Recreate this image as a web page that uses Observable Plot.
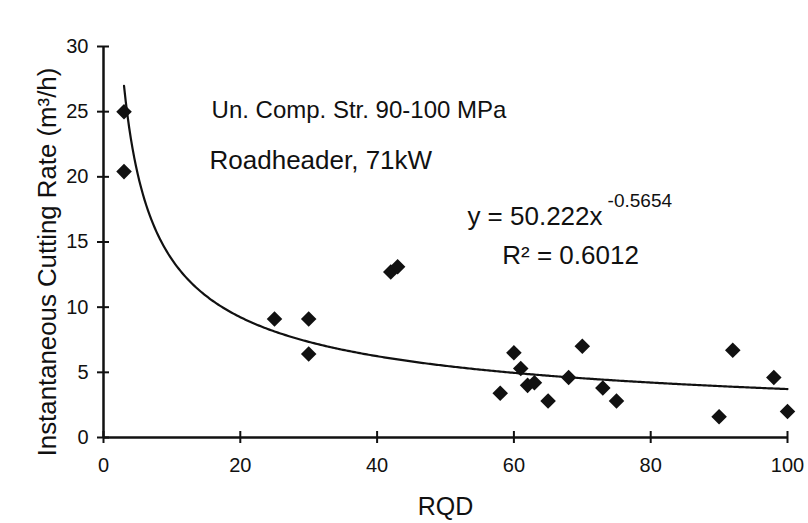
<!DOCTYPE html>
<html><head><meta charset="utf-8">
<script src="https://cdn.jsdelivr.net/npm/d3@7"></script>
<script src="https://cdn.jsdelivr.net/npm/@observablehq/plot@0.6"></script>
<style>body{margin:0;background:#fff;}</style>
</head><body><div id="chart"></div>
<script>
// Data
const rqd  = [3, 3, 25, 30, 30, 42, 43, 58, 60, 61, 62, 63, 65, 68, 70, 73, 75, 90, 92, 98, 100];
const rate = [25.0, 20.4, 9.1, 9.1, 6.4, 12.7, 13.1, 3.4, 6.5, 5.3, 4.0, 4.2, 2.8, 4.6, 7.0, 3.8, 2.8, 1.6, 6.7, 4.6, 2.0];
const xTicks = [0, 20, 40, 60, 80, 100];
const yTicks = [0, 5, 10, 15, 20, 25, 30];
// Power trendline printed on the chart: y = 50.222 x^-0.5654
const fitA = 50.222, fitB = -0.5654;
const fitRange = [3, 100];
const xLabel = "RQD";
const yLabel = "Instantaneous Cutting Rate (m³/h)";
const noteLines = ["Un. Comp. Str. 90-100 MPa", "Roadheader, 71kW"];
const eqMain = "y = 50.222x";
const eqExp = "-0.5654";
const r2Text = "R² = 0.6012";

// Annotation anchors (data coordinates)
const notes = [
  {x: 15.8, y: 24.5, text: noteLines[0]},
  {x: 15.5, y: 20.6, text: noteLines[1]}
];
const eqPos = {x: 53.2, y: 16.27};
const expPos = {x: 73.7, y: 17.65};
const r2Pos = {x: 58.3, y: 13.33};

const points = rqd.map((x, i) => ({x, y: rate[i]}));
const fit = d3.range(fitRange[0], fitRange[1] + 1e-9, 0.25).map(x => ({x, y: fitA * Math.pow(x, fitB)}));

const ink = "#111";
const chart = Plot.plot({
  width: 808, height: 523,
  marginLeft: 103, marginRight: 21, marginTop: 46, marginBottom: 86,
  style: {fontFamily: "Arial, 'Liberation Sans', Helvetica, sans-serif", fontSize: "20px", color: ink, background: "#fff"},
  x: {domain: [0, 100]},
  y: {domain: [0, 30]},
  marks: [
    Plot.axisX({ticks: xTicks, tickSize: 6, tickPadding: 14, label: null, strokeWidth: 2}),
    Plot.axisX({ticks: xTicks, tickSize: 6, text: null, dy: -6, label: null, strokeWidth: 2}),
    Plot.axisY({ticks: yTicks, tickSize: 6, tickPadding: 9, label: null, strokeWidth: 2}),
    Plot.axisY({ticks: yTicks, tickSize: 6, text: null, dx: 6, label: null, strokeWidth: 2}),
    Plot.ruleY([0], {stroke: ink, strokeWidth: 2.5}),
    Plot.ruleX([0], {stroke: ink, strokeWidth: 2.5}),
    Plot.line(fit, {x: "x", y: "y", stroke: ink, strokeWidth: 2.2, curve: "linear"}),
    Plot.dot(points, {x: "x", y: "y", symbol: "diamond2", r: 7, fill: ink, stroke: "none"}),
    Plot.text([notes[0]], {x: "x", y: "y", text: "text", fontSize: 24, textAnchor: "start", lineAnchor: "bottom", fill: ink}),
    Plot.text([notes[1]], {x: "x", y: "y", text: "text", fontSize: 26, textAnchor: "start", lineAnchor: "bottom", fill: ink}),
    Plot.text([eqMain], {x: () => eqPos.x, y: () => eqPos.y, text: d => d, fontSize: 26, textAnchor: "start", lineAnchor: "bottom", fill: ink}),
    Plot.text([eqExp], {x: () => expPos.x, y: () => expPos.y, text: d => d, fontSize: 19, textAnchor: "start", lineAnchor: "bottom", fill: ink}),
    Plot.text([r2Text], {x: () => r2Pos.x, y: () => r2Pos.y, text: d => d, fontSize: 26, textAnchor: "start", lineAnchor: "bottom", fill: ink}),
    Plot.text([xLabel], {frameAnchor: "bottom", dy: 77, text: d => d, fontSize: 25, textAnchor: "middle", lineAnchor: "bottom", fill: ink}),
    Plot.text([yLabel], {frameAnchor: "left", rotate: -90, dx: -48, dy: 20, text: d => d, fontSize: 25.8, textAnchor: "middle", lineAnchor: "bottom", fill: ink})
  ]
});
document.getElementById("chart").appendChild(chart);
</script>
</body></html>
